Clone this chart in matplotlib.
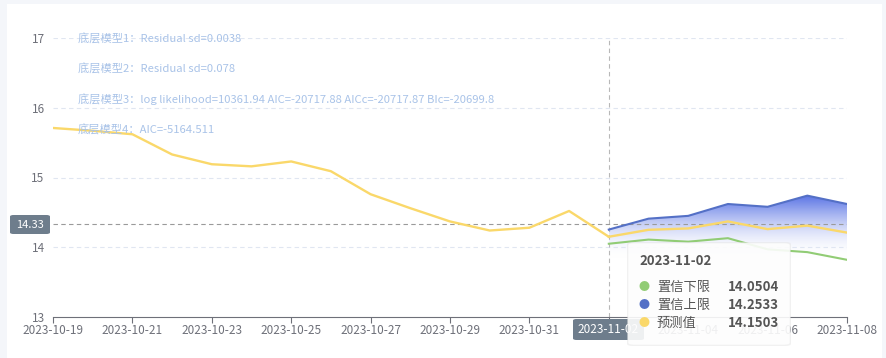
import numpy as np
import pandas as pd
import matplotlib
matplotlib.use("Agg")
import matplotlib.pyplot as plt
import matplotlib.dates as mdates
from matplotlib.patches import FancyBboxPatch, Polygon, Rectangle

plt.rcParams['font.family'] = ['Noto Sans CJK SC', 'DejaVu Sans']

# 数据
hist_dates = pd.date_range('2023-10-19', '2023-11-02')
hist_vals = [15.71, 15.67, 15.62, 15.33, 15.19, 15.16, 15.23, 15.09, 14.76,
             14.56, 14.37, 14.24, 14.28, 14.52, 14.1503]
fc_dates = pd.date_range('2023-11-02', '2023-11-08')
upper = [14.2533, 14.41, 14.45, 14.62, 14.58, 14.74, 14.62]
pred = [14.1503, 14.25, 14.27, 14.37, 14.26, 14.31, 14.21]
lower = [14.0504, 14.11, 14.08, 14.13, 13.97, 13.93, 13.82]
notes = ['底层模型1：Residual sd=0.0038',
         '底层模型2：Residual sd=0.078',
         '底层模型3：log likelihood=10361.94 AIC=-20717.88 AICc=-20717.87 BIc=-20699.8',
         '底层模型4：AIC=-5164.511']
y_ticks = [13, 14, 15, 16, 17]
cursor_date = '2023-11-02'
cursor_y = 14.33
tip_names = ['置信下限', '置信上限', '预测值']
tip_vals = ['14.0504', '14.2533', '14.1503']

c_yellow = '#fad86a'
c_blue = '#5470c6'
c_green = '#91cc75'
W, H = 887, 358

fig = plt.figure(figsize=(W / 100, H / 100), dpi=100)
fig.patch.set_facecolor('#f4f6fa')
fig.add_artist(Rectangle((7 / W, 0), (882 - 7) / W, 1 - 4 / H, transform=fig.transFigure,
                         facecolor='white', edgecolor='none', zorder=0))
ax = fig.add_axes([53 / W, 1 - 317 / H, (847 - 53) / W, (317 - 38) / H])
ax.set_facecolor('none')

x_fc = mdates.date2num(fc_dates)
ax.set_xlim(mdates.date2num(pd.Timestamp('2023-10-19')), mdates.date2num(pd.Timestamp('2023-11-08')))

# 渐变填充
poly = np.column_stack([np.r_[x_fc, x_fc[::-1]], np.r_[upper, [13] * len(x_fc)]])
clip = Polygon(poly, closed=True, transform=ax.transData, facecolor='none', edgecolor='none')
ax.add_patch(clip)
top, bot = max(upper), 13.85
n = 200
t = np.linspace(0, 1, n)[:, None]
grad = np.zeros((n, 1, 4))
grad[..., 0] = 0.36 + 0.64 * t
grad[..., 1] = 0.46 + 0.54 * t
grad[..., 2] = 0.90 + 0.10 * t
grad[..., 3] = 1.0 - t ** 1.3
im = ax.imshow(grad, extent=[x_fc[0], x_fc[-1], bot, top], aspect='auto', origin='upper', zorder=1)
im.set_clip_path(clip)
ax.set_ylim(13, 17)

ax.plot(fc_dates, lower, color=c_green, lw=1.5, zorder=3)
ax.plot(fc_dates, upper, color=c_blue, lw=1.5, zorder=3)
ax.plot(hist_dates, hist_vals, color=c_yellow, lw=1.7, zorder=4)
ax.plot(fc_dates, pred, color=c_yellow, lw=1.7, zorder=4)

# 坐标轴
ax.set_yticks(y_ticks)
for y in y_ticks[1:]:
    ax.axhline(y, color='#e0e6f1', lw=0.8, ls=(0, (4, 3)), zorder=0)
ax.set_xticks(pd.date_range('2023-10-19', '2023-11-08', freq='2D'))
ax.xaxis.set_major_formatter(mdates.DateFormatter('%Y-%m-%d'))
for s in ['top', 'right', 'left']:
    ax.spines[s].set_visible(False)
ax.spines['bottom'].set_color('#6e7079')
ax.tick_params(axis='x', colors='#6e7079', labelcolor='#6e7079', length=4, labelsize=8.5, pad=1)
ax.tick_params(axis='y', length=0, labelcolor='#6e7079', labelsize=8.5, pad=6)

# 注释
for i, s in enumerate(notes):
    fig.text(78 / W, 1 - (39 + 30.3 * i) / H, s, color='#a9c3e8', fontsize=8.1, va='center', ha='left')

# 十字准线
cx = mdates.date2num(pd.Timestamp(cursor_date))
ax.axvline(cx, color='#b8b8b8', lw=0.8, ls=(0, (4, 3)), zorder=2)
ax.axhline(cursor_y, color='#9a9a9a', lw=0.8, ls=(0, (4, 3)), zorder=2)
fig.add_artist(FancyBboxPatch((10 / W, 1 - 234 / H), 40 / W, 19 / H, boxstyle='round,pad=0,rounding_size=0.004',
                              transform=fig.transFigure, facecolor='#6e7d8c', edgecolor='none', zorder=5))
fig.text(30 / W, 1 - 224.5 / H, f'{cursor_y:.2f}', color='white', fontsize=8, ha='center', va='center', zorder=6)
fig.add_artist(FancyBboxPatch((573 / W, 1 - 340 / H), 71 / W, 21 / H, boxstyle='round,pad=0,rounding_size=0.004',
                              transform=fig.transFigure, facecolor='#6e7d8c', edgecolor='none', zorder=5))
fig.text(608.5 / W, 1 - 329.5 / H, cursor_date, color='white', fontsize=8.5, ha='center', va='center', zorder=6)

# 提示框
fig.add_artist(FancyBboxPatch((627 / W, 1 - 346 / H), 164 / W, 104 / H, boxstyle='round,pad=0,rounding_size=0.006',
                              transform=fig.transFigure, facecolor='#dcdcdc', edgecolor='none', alpha=0.35, zorder=7))
fig.add_artist(FancyBboxPatch((628 / W, 1 - 345 / H), 162 / W, 102 / H, boxstyle='round,pad=0,rounding_size=0.006',
                              transform=fig.transFigure, facecolor='white', edgecolor='#f0f0f0', lw=0.5,
                              alpha=0.85, zorder=8))
fig.text(639 / W, 1 - 261 / H, cursor_date, color='#555555', fontsize=9.5, fontweight='bold', va='center', zorder=9)
for i, (name, val, c) in enumerate(zip(tip_names, tip_vals, [c_green, c_blue, c_yellow])):
    y = 1 - (287 + 18 * i) / H
    fig.text(644 / W, y, '●', color=c, fontsize=8, ha='center', va='center', zorder=9)
    fig.text(657 / W, y, name, color='#555555', fontsize=9.5, va='center', zorder=9)
    fig.text(779 / W, y, val, color='#555555', fontsize=9.5, fontweight='bold', ha='right', va='center', zorder=9)

fig.savefig('out.png', dpi=100, facecolor=fig.get_facecolor())
